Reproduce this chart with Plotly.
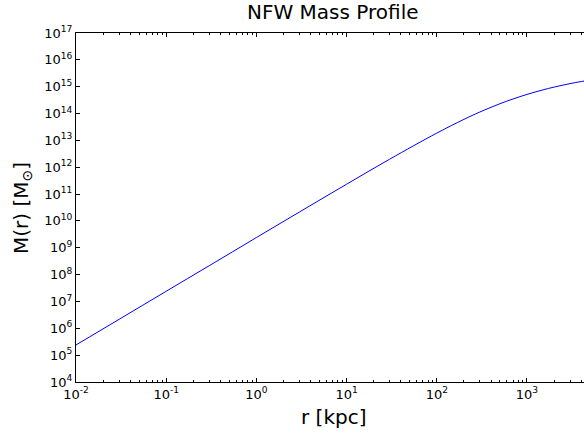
import plotly.graph_objects as go

# Enclosed mass of the halo, sampled along radius
r_kpc = [0.01, 0.03, 0.1, 0.3, 1, 3, 10, 30, 100, 200, 300, 500, 700,
         1000, 1500, 2000, 3000, 4000, 5000]
mass_msun = [2.4e5, 2.15e6, 2.4e7, 2.15e8, 2.4e9, 2.15e10, 2.33e11, 1.99e12,
             1.87e13, 6.07e13, 1.14e14, 2.31e14, 3.49e14, 5.16e14, 7.6e14,
             9.67e14, 1.30e15, 1.56e15, 1.78e15]

x_tickvals = [1e-2, 1e-1, 1, 10, 100, 1000]
x_ticktext = ["10<sup>-2</sup>", "10<sup>-1</sup>", "10<sup>0</sup>",
              "10<sup>1</sup>", "10<sup>2</sup>", "10<sup>3</sup>"]
y_exponents = list(range(4, 18))
y_tickvals = [10.0 ** e for e in y_exponents]
y_ticktext = ["10<sup>%d</sup>" % e for e in y_exponents]

x_minor = [m * d for d in [1e-2, 1e-1, 1, 10, 100, 1000] for m in range(2, 10)]

W, H = 584, 439
L, R, T, B = 76, 0, 33, 57
FONT = "DejaVu Sans"

fig = go.Figure(
    go.Scatter(x=r_kpc, y=mass_msun, mode="lines",
               line=dict(color="#0000ff", width=1, shape="spline"),
               showlegend=False)
)

axis_common = dict(
    showgrid=False, zeroline=False, showline=True, linecolor="black",
    linewidth=1, ticks="inside", ticklen=4, tickwidth=1, tickcolor="black",
    tickfont=dict(family=FONT, size=13, color="black"),
)

fig.update_xaxes(type="log", range=[-2, 3.632], tickmode="array",
                 tickvals=x_tickvals, ticktext=x_ticktext, mirror="allticks",
                 minor=dict(tickmode="array", tickvals=x_minor, ticks="inside",
                            ticklen=2, tickcolor="black", showgrid=False),
                 **axis_common)
fig.update_yaxes(type="log", range=[4, 17], tickmode="array",
                 tickvals=y_tickvals, ticktext=y_ticktext, mirror=False,
                 **axis_common)

fig.update_layout(
    width=W, height=H, margin=dict(l=L, r=R, t=T, b=B, pad=0),
    paper_bgcolor="white", plot_bgcolor="white",
    font=dict(family=FONT, color="black"),
    annotations=[
        dict(text="NFW Mass Profile", xref="paper", yref="paper",
             x=(333 - L) / (W - L - R), y=1, yshift=21, xanchor="center",
             yanchor="middle", showarrow=False,
             font=dict(family=FONT, size=20, color="black")),
        dict(text="r [kpc]", xref="paper", yref="paper",
             x=(333 - L) / (W - L - R), y=0, yshift=-35, xanchor="center",
             yanchor="middle", showarrow=False,
             font=dict(family=FONT, size=20, color="black")),
        dict(text="M(r) [M<sub>⊙</sub>]", xref="paper", yref="paper",
             x=0, xshift=-54, y=(H - B - 208) / (H - T - B), textangle=-90,
             xanchor="center", yanchor="middle", showarrow=False,
             font=dict(family=FONT, size=20, color="black")),
    ],
)

fig.write_html("out.html")
